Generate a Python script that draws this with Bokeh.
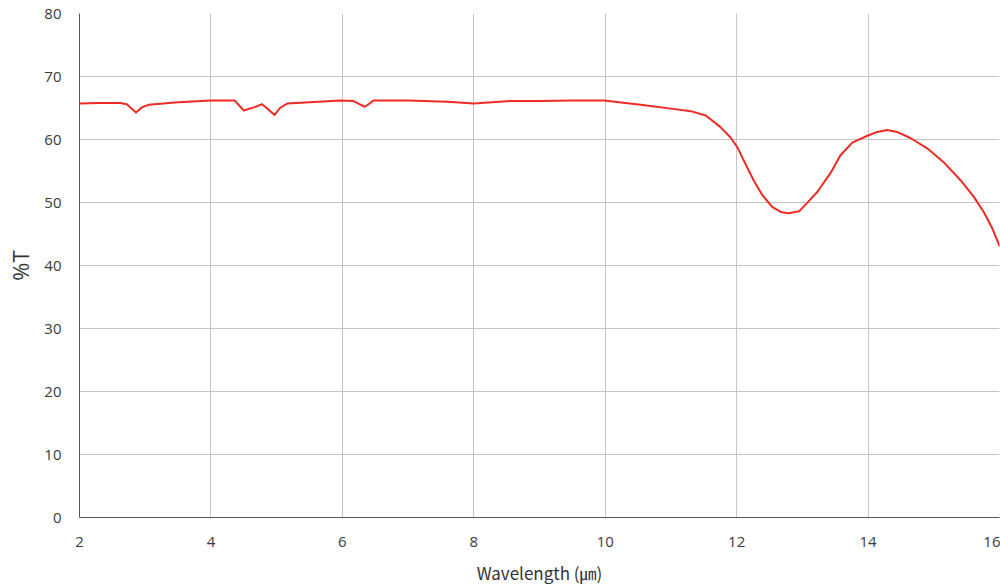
from bokeh.plotting import figure
from bokeh.models import Range1d, FixedTicker
from bokeh.embed import file_html
from bokeh.resources import INLINE

# Data
wavelength = [2.0, 2.3, 2.62, 2.72, 2.86, 2.95, 3.05, 3.5, 4.0, 4.36, 4.50, 4.65, 4.78,
              4.97, 5.05, 5.16, 5.5, 5.97, 6.17, 6.26, 6.34, 6.40, 6.47, 7.0, 7.6, 8.0,
              8.56, 9.0, 9.5, 9.98, 10.54, 11.0, 11.30, 11.53, 11.75, 11.90, 12.01, 12.13,
              12.26, 12.39, 12.54, 12.67, 12.79, 12.95, 13.07, 13.23, 13.43, 13.58, 13.76,
              13.99, 14.14, 14.29, 14.44, 14.65, 14.90, 15.15, 15.41, 15.61, 15.76, 15.89,
              16.0]
transmittance = [65.7, 65.8, 65.8, 65.6, 64.3, 65.1, 65.5, 65.9, 66.2, 66.2, 64.6, 65.1, 65.6,
                 63.9, 65.0, 65.7, 65.9, 66.2, 66.1, 65.6, 65.2, 65.6, 66.2, 66.2, 66.0, 65.7,
                 66.1, 66.1, 66.2, 66.2, 65.5, 64.9, 64.5, 63.8, 62.0, 60.4, 58.8, 56.2,
                 53.5, 51.2, 49.3, 48.5, 48.3, 48.6, 49.9, 51.7, 54.7, 57.5, 59.5,
                 60.6, 61.2, 61.5, 61.2, 60.2, 58.6, 56.4, 53.5, 50.9, 48.5, 45.9,
                 43.1]
x_ticks = [2, 4, 6, 8, 10, 12, 14, 16]
y_ticks = [0, 10, 20, 30, 40, 50, 60, 70, 80]

p = figure(width=1000, height=587, output_backend="svg", toolbar_location=None,
           x_range=Range1d(2, 16), y_range=Range1d(0, 80),
           min_border_left=79, min_border_right=1, min_border_top=13, min_border_bottom=69)

p.line(wavelength, transmittance, line_color="#ee2a24", line_width=2,
       line_join="round", line_cap="round")

p.outline_line_color = None
p.background_fill_color = "white"
p.border_fill_color = "white"

for ax in (p.xaxis[0], p.yaxis[0]):
    ax.axis_line_color = "#555555"
    ax.axis_line_width = 1
    ax.major_tick_line_color = None
    ax.minor_tick_line_color = None
    ax.major_label_text_font = "Open Sans"
    ax.major_label_text_font_size = "15px"
    ax.major_label_text_color = "#3a3a3a"
    ax.axis_label_text_font_style = "normal"
    ax.axis_label_text_color = "#333333"

p.xaxis.ticker = FixedTicker(ticks=x_ticks)
p.yaxis.ticker = FixedTicker(ticks=y_ticks)
p.xaxis.major_label_standoff = 13
p.yaxis.major_label_standoff = 12

p.xaxis.axis_label = "Wavelength (㎛)"
p.xaxis.axis_label_text_font = "Noto Sans CJK KR"
p.xaxis.axis_label_text_font_size = "17px"
p.xaxis.axis_label_standoff = 10

p.yaxis.axis_label = "%T"
p.yaxis.axis_label_text_font = "Open Sans"
p.yaxis.axis_label_text_font_size = "22px"
p.yaxis.axis_label_standoff = 6

p.xgrid.grid_line_color = "#c4c4c4"
p.ygrid.grid_line_color = "#c4c4c4"
p.xgrid.grid_line_width = 1
p.ygrid.grid_line_width = 1

open("out.html", "w").write(file_html(p, INLINE))
